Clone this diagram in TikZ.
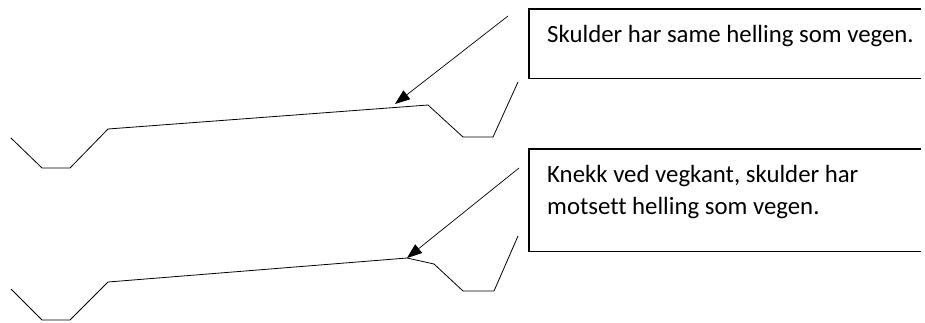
\documentclass[tikz,border=0pt]{standalone}
\usepackage{fontspec}
\setmainfont{Carlito}[Ligatures=NoCommon]
\usetikzlibrary{arrows.meta}
\begin{document}
\begin{tikzpicture}[x=1pt,y=-1pt,
  road/.style={line width=0.8pt, line join=miter},
  callout/.style={minimum width=392pt, inner sep=0pt, anchor=north west},
  frame/.style={line width=1.6pt, line join=miter},
  label/.style={anchor=base west, inner sep=0pt, font=\fontsize{24.8pt}{32pt}\selectfont, align=left},
  pointer/.style={line width=0.7pt, -{Triangle[length=15pt,width=11pt]}}]
\useasboundingbox (0,0) rectangle (925,322);
% boxes (open on the right: they run on past the picture edge)
\node[callout, minimum height=69pt] (box1) at (529,9) {};
\node[callout, minimum height=102pt] (box2) at (529,149) {};
\draw[frame] (box1.north east) -- (box1.north west) -- (box1.south west) -- (box1.south east);
\draw[frame] (box2.north east) -- (box2.north west) -- (box2.south west) -- (box2.south east);
\node[label] (t1) at (547,42) {Skulder har same helling som vegen.};
\node[label] (t2) at (547,214) {Knekk ved vegkant, skulder har\\motsett helling som vegen.};
% road 1
\draw[road] (11,138) -- (42,168) -- (70,168) -- (108,129) -- (428,105)
  -- (463,137) -- (493,137) -- (518,82);
% road 2
\draw[road] (11,289) -- (42,320) -- (70,320) -- (108,282) -- (407,258) coordinate (r2)
  -- (434,264) -- (463,291) -- (494,291) -- (518,236);
% arrows
\coordinate (a1) at (508,16);
\coordinate (r1) at (395,104);
\coordinate (a2) at (519,168);
\draw[pointer] (a1) -- (r1);
\draw[pointer] (a2) -- (r2);
\end{tikzpicture}
\end{document}
